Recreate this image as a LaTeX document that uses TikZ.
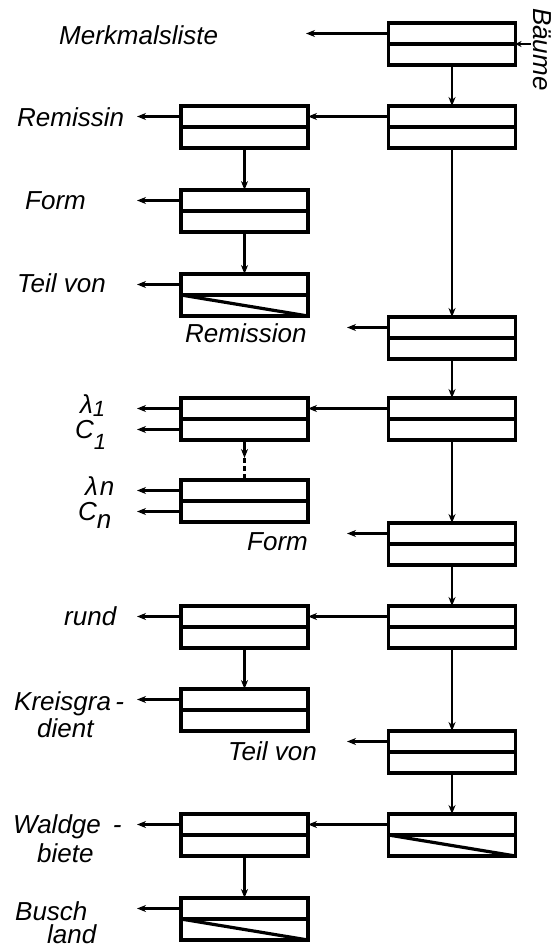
\documentclass[tikz,border=0pt]{standalone}
\usepackage{fontspec}
\setmainfont{Liberation Sans}
\usetikzlibrary{arrows.meta}
\begin{document}
\begin{tikzpicture}[x=1pt,y=-1pt,
  box/.style={draw, line width=3.4pt, minimum width=127pt, minimum height=42pt, inner sep=0pt, outer sep=0pt, anchor=north},
  midline/.style={line width=3.2pt},
  diag/.style={line width=3.2pt},
  conn/.style={line width=2.2pt, -{Stealth[length=9pt,width=7pt]}},
  small/.style={line width=2pt, -{Stealth[length=6pt,width=6pt]}},
  lbl/.style={font=\fontsize{26}{26}\selectfont\itshape, anchor=base west, inner sep=0pt},
]
\useasboundingbox[fill=white] (0,0) rectangle (557,947);
% free end x positions
\coordinate (xA) at (137,0);
\coordinate (xB) at (306,0);
\coordinate (xC) at (347,0);
\coordinate (xD) at (531,0);
% boxes
\node[box] (R1) at (452,23) {};
\node[box] (R2) at (452,106) {};
\node[box] (L2) at (244.5,106) {};
\node[box] (L3) at (244.5,190) {};
\node[box] (L4) at (244.5,274) {};
\node[box] (R3) at (452,317) {};
\node[box] (R4) at (452,398) {};
\node[box] (L5) at (244.5,398) {};
\node[box] (L6) at (244.5,480) {};
\node[box] (R5) at (452,523) {};
\node[box] (R6) at (452,606) {};
\node[box] (L7) at (244.5,606) {};
\node[box] (L8) at (244.5,689) {};
\node[box] (R7) at (452,731) {};
\node[box] (R8) at (452,814) {};
\node[box] (L9) at (244.5,814) {};
\node[box] (L10) at (244.5,898) {};
% middle lines
\foreach \b in {R1,R2,L2,L3,L4,R3,R4,L5,L6,R5,R6,L7,L8,R7,R8,L9,L10}
  \draw[midline] (\b.west) -- (\b.east);
% diagonals
\foreach \b in {L4,R8,L10}
  \draw[diag] (\b.west) -- (\b.south east);
% vertical connectors
\draw[conn] (R1.south) -- (R2.north);
\draw[conn] (R2.south) -- (R3.north);
\draw[conn] (R3.south) -- (R4.north);
\draw[conn] (R4.south) -- (R5.north);
\draw[conn] (R5.south) -- (R6.north);
\draw[conn] (R6.south) -- (R7.north);
\draw[conn] (R7.south) -- (R8.north);
\draw[conn] (L2.south) -- (L3.north);
\draw[conn] (L3.south) -- (L4.north);
\draw[conn] (L7.south) -- (L8.north);
\draw[conn] (L9.south) -- (L10.north);
\coordinate (dk) at (244.5,458);
\draw[conn] (L5.south) -- (dk);
\draw[line width=2.2pt, dash pattern=on 5pt off 3pt] (dk) -- (L6.north);
% horizontal connectors right -> left
\draw[conn] ([yshift=10.5pt]R2.west) -- ([yshift=10.5pt]R2.west -| L2.east);
\draw[conn] ([yshift=10.5pt]R4.west) -- ([yshift=10.5pt]R4.west -| L5.east);
\draw[conn] ([yshift=10.5pt]R6.west) -- ([yshift=10.5pt]R6.west -| L7.east);
\draw[conn] ([yshift=10.5pt]R8.west) -- ([yshift=10.5pt]R8.west -| L9.east);
% output arrows
\draw[conn] ([yshift=10.5pt]R1.west) -- ([yshift=10.5pt]R1.west -| xB);
\draw[conn] ([yshift=10.5pt]R3.west) -- ([yshift=10.5pt]R3.west -| xC);
\draw[conn] ([yshift=10.5pt]R5.west) -- ([yshift=10.5pt]R5.west -| xC);
\draw[conn] ([yshift=10.5pt]R7.west) -- ([yshift=10.5pt]R7.west -| xC);
\foreach \b in {L2,L3,L4,L7,L8,L9,L10}
  \draw[conn] ([yshift=10.5pt]\b.west) -- ([yshift=10.5pt]\b.west -| xA);
\foreach \b in {L5,L6} {
  \draw[conn] ([yshift=10.5pt]\b.west) -- ([yshift=10.5pt]\b.west -| xA);
  \draw[conn] ([yshift=-10.5pt]\b.west) -- ([yshift=-10.5pt]\b.west -| xA);
}
% input arrow Baeume
\draw[small] (R1.east -| xD) -- (R1.east);
% labels
\node[lbl] (tMerk) at (59,45) {Merkmalsliste};
\node[lbl, rotate=-90] (tBaeume) at (533,8) {Bäume};
\node[lbl] (tRemissin) at (17,127) {Remissin};
\node[lbl] (tForm1) at (25,209) {Form};
\node[lbl] (tTeil1) at (17,292) {Teil von};
\node[lbl] (tRemission) at (185,342) {Remission};
\node[lbl] (tL1) at (80,413) {λ\raisebox{-3pt}{\fontsize{22}{22}\selectfont 1}};
\node[lbl] (tC1) at (75,438) {C\raisebox{-11pt}{\fontsize{22}{22}\selectfont 1}};
\node[lbl] (tLn) at (85,495) {λ\hspace{2pt}n};
\node[lbl] (tCn) at (78,520) {C\raisebox{-8pt}{n}};
\node[lbl] (tForm2) at (247,550) {Form};
\node[lbl] (tRund) at (64,625) {rund};
\node[lbl] (tKreis) at (14,710) {Kreisgra\,-};
\node[lbl] (tDient) at (37,737) {dient};
\node[lbl] (tTeil2) at (228,760) {Teil von};
\node[lbl] (tWald) at (13,833) {Waldge\hspace{12pt}-};
\node[lbl] (tBiete) at (37,862) {biete};
\node[lbl] (tBusch) at (15,920) {Busch};
\node[lbl] (tLand) at (47,943) {land};
\end{tikzpicture}
\end{document}
